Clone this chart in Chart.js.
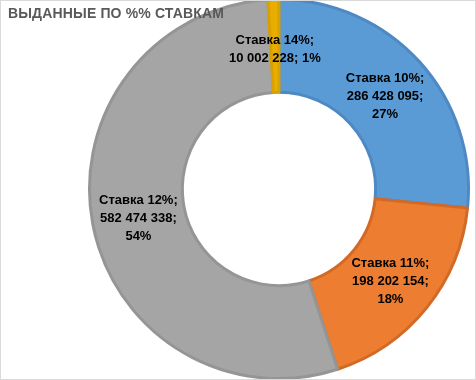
<!DOCTYPE html>
<html>
<head>
<meta charset="utf-8">
<script src="https://cdn.jsdelivr.net/npm/chart.js@4.4.1/dist/chart.umd.min.js"></script>
<style>
  html, body { margin: 0; padding: 0; background: #fff; }
  #frame { position: relative; width: 476px; height: 380px; overflow: hidden; background: #fff; }
  #wrap { position: absolute; left: 0; top: -10px; width: 476px; height: 400px; }
  #border { position: absolute; left: 0; top: 0; width: 474px; height: 378px; border: 1px solid #d9d9d9; pointer-events: none; z-index: 3; }
  #title { position: absolute; left: 8px; top: 5px; font: bold 14px "Liberation Sans", Arial, sans-serif; line-height: 16px; color: #595959; z-index: 2; white-space: nowrap; letter-spacing: 0.15px; }
</style>
</head>
<body>
<div id="frame">
  <div id="wrap"><canvas id="c" width="476" height="400"></canvas></div>
  <div id="title">ВЫДАННЫЕ ПО %% СТАВКАМ</div>
  <div id="border"></div>
</div>
<script>
const categories = ['Ставка 10%', 'Ставка 11%', 'Ставка 12%', 'Ставка 14%'];
const values = [286428095, 198202154, 582474338, 10002228];
const labelStyle = ['stack', 'stack', 'stack', 'inline'];
const fillColors = ['#5B9BD5', '#ED7D31', '#A5A5A5', '#E9AD00'];
const borderColors = ['#4E89C4', '#D26A27', '#959595', '#D9A100'];

const total = values.reduce((a, b) => a + b, 0);
function fmt(n) { return String(n).replace(/\B(?=(\d{3})+(?!\d))/g, ' '); }
function labelLines(i) {
  const pct = Math.round(values[i] / total * 100) + '%';
  if (labelStyle[i] === 'inline') return [categories[i] + ';', fmt(values[i]) + '; ' + pct];
  return [categories[i] + ';', fmt(values[i]) + ';', pct];
}

const labelPlugin = {
  id: 'sliceLabels',
  afterDatasetsDraw(chart) {
    const ctx = chart.ctx;
    const meta = chart.getDatasetMeta(0);
    ctx.save();
    ctx.font = 'bold 13px "Liberation Sans", Arial, sans-serif';
    ctx.fillStyle = '#000';
    ctx.textAlign = 'center';
    ctx.textBaseline = 'middle';
    const lh = 18;
    meta.data.forEach((arc, i) => {
      const p = arc.tooltipPosition();
      const lines = labelLines(i);
      const y0 = p.y + 3 - (lines.length - 1) * lh / 2;
      lines.forEach((t, k) => ctx.fillText(t, p.x, y0 + k * lh));
    });
    ctx.restore();
  }
};

new Chart(document.getElementById('c'), {
  type: 'doughnut',
  data: {
    labels: categories,
    datasets: [{
      data: values,
      backgroundColor: fillColors,
      borderColor: borderColors,
      borderWidth: 3,
      hoverOffset: 0
    }]
  },
  options: {
    responsive: false,
    animation: false,
    cutout: '51%',
    layout: { padding: { left: 88, right: 6, top: 8, bottom: 10 } },
    plugins: { legend: { display: false }, tooltip: { enabled: false }, title: { display: false } }
  },
  plugins: [labelPlugin]
});
</script>
</body>
</html>
